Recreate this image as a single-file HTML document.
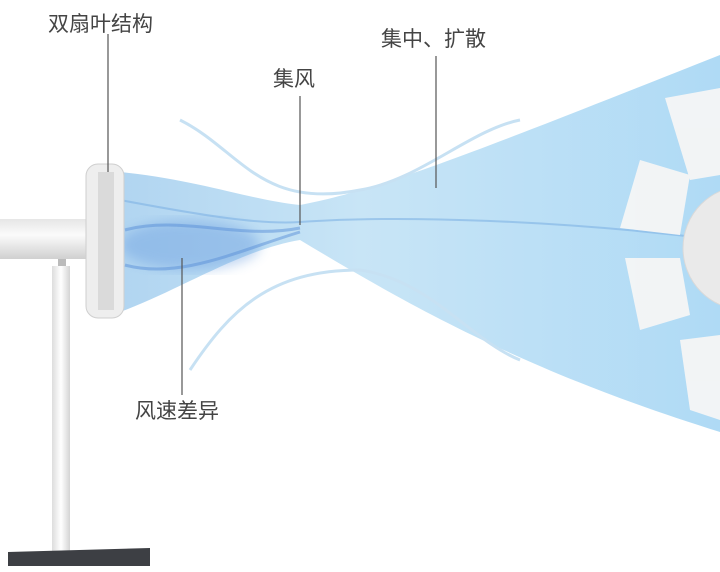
<!DOCTYPE html>
<html><head><meta charset="utf-8"><style>
html,body{margin:0;padding:0;background:#fff;}
svg{display:block}
text{font-family:"Liberation Sans","Noto Sans CJK SC",sans-serif;font-size:21px;fill:#444}
</style></head><body>
<svg width="720" height="572" viewBox="0 0 720 572">
<defs>
<linearGradient id="beam" x1="0" x2="1" y1="0" y2="0">
<stop offset="0" stop-color="#a8d0ef"/><stop offset="0.4" stop-color="#c2e2f5"/><stop offset="1" stop-color="#a6d6f4"/>
</linearGradient>
<linearGradient id="tube" x1="0" x2="0" y1="0" y2="1">
<stop offset="0" stop-color="#e6e6e6"/><stop offset="0.4" stop-color="#fbfbfb"/><stop offset="1" stop-color="#d0d0d0"/>
</linearGradient>
<linearGradient id="pole" x1="0" x2="1"><stop offset="0" stop-color="#ddd"/><stop offset="0.5" stop-color="#fff"/><stop offset="1" stop-color="#d4d4d4"/></linearGradient>
<filter id="bl"><feGaussianBlur stdDeviation="6"/></filter>
</defs>
<path d="M120,172 C200,180 250,200 300,205 C380,190 480,150 720,55 L720,432 C520,370 400,300 300,240 C240,250 180,290 120,312 Z" fill="url(#beam)" opacity="0.9"/>
<ellipse cx="190" cy="245" rx="70" ry="25" fill="#6c9fe0" opacity=".45" filter="url(#bl)"/>
<path d="M120,200 C200,215 260,225 300,222 C400,215 560,220 720,240" stroke="#7fb2e4" stroke-width="2" fill="none" opacity=".6"/>
<path d="M125,230 C180,215 240,240 300,228" stroke="#5a90d8" stroke-width="3" fill="none" opacity=".5"/>
<path d="M125,265 C180,280 240,250 300,232" stroke="#5a90d8" stroke-width="3" fill="none" opacity=".5"/>
<path d="M180,120 C240,150 260,210 360,190 C420,180 470,130 520,120" stroke="#c7e1f3" stroke-width="3" fill="none"/>
<path d="M190,370 C230,310 270,270 360,270 C430,280 470,340 520,360" stroke="#c7e1f3" stroke-width="3" fill="none"/>
<g fill="#f6f6f6" opacity=".95">
<polygon points="665,98 720,88 720,175 690,180"/>
<polygon points="640,160 690,175 680,235 620,228"/>
<polygon points="625,258 680,258 690,315 640,330"/>
<polygon points="680,340 720,335 720,420 690,410"/>
</g>
<circle cx="745" cy="248" r="62" fill="#eaeaea" stroke="#d9d9d9"/>
<rect x="0" y="219" width="92" height="40" fill="url(#tube)"/>
<rect x="58" y="259" width="8" height="8" fill="#bbb"/>
<rect x="52" y="266" width="18" height="285" fill="url(#pole)"/>
<path d="M8,552 L150,548 L150,566 L8,566 Z" fill="#3d3f44"/>
<rect x="86" y="164" width="38" height="154" rx="12" fill="#eeeeee" stroke="#cfcfcf"/>
<rect x="98" y="172" width="16" height="138" fill="#dadada"/>
<g stroke="#555" stroke-width="1.2">
<line x1="108" y1="34" x2="108" y2="172"/>
<line x1="300" y1="96" x2="300" y2="225"/>
<line x1="436" y1="56" x2="436" y2="188"/>
<line x1="182" y1="258" x2="182" y2="395"/>
</g>
<text x="48" y="31">双扇叶结构</text>
<text x="273" y="86">集风</text>
<text x="381" y="46">集中、扩散</text>
<text x="135" y="418">风速差异</text>
</svg>
</body></html>
